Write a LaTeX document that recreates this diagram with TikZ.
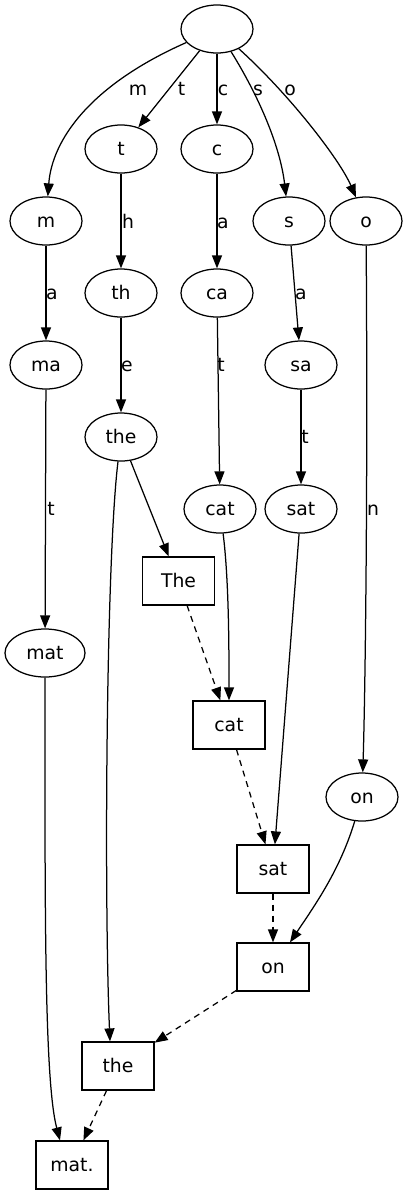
\documentclass[tikz,border=0pt]{standalone}
\usepackage{fontspec}
\setmainfont{DejaVu Sans}
\usetikzlibrary{shapes.geometric,arrows.meta}
\begin{document}
\begin{tikzpicture}[x=1pt,y=-1pt,
  every node/.style={font=\fontsize{18.8}{22}\selectfont},
  el/.style={draw, ellipse, minimum width=72pt, minimum height=48pt, inner sep=0pt, line width=1.25pt, text height=12.5pt, text depth=0.5pt},
  bx/.style={draw, rectangle, minimum width=72pt, minimum height=48pt, inner sep=0pt, line width=1.25pt, text height=12.5pt, text depth=0.5pt},
  lab/.style={anchor=base, inner sep=0pt},
  edge/.style={line width=1.25pt, -{Triangle[length=13pt,width=10pt]}},
  seq/.style={edge, dash pattern=on 6pt off 5pt}
]
\useasboundingbox (0,0) rectangle (409,1195);
% trie nodes
\node[el] (root) at (217,29) {};
\node[el] (t) at (121,149) {t};
\node[el] (c) at (217,149) {c};
\node[el] (m) at (46,221) {m};
\node[el] (s) at (289,221) {s};
\node[el] (o) at (366,221) {o};
\node[el] (th) at (121,293) {th};
\node[el] (ca) at (217,293) {ca};
\node[el] (ma) at (46,365) {ma};
\node[el] (sa) at (301,365) {sa};
\node[el] (the) at (121,437) {the};
\node[el] (cat) at (220,509) {cat};
\node[el] (sat) at (301,509) {sat};
\node[el, minimum width=80pt] (mat) at (45,653) {mat};
\node[el] (on) at (362,797) {on};
% word boxes
\node[bx] (Theb) at (178.5,581) {The};
\node[bx] (catb) at (229,725) {cat};
\node[bx] (satb) at (273,869) {sat};
\node[bx] (onb) at (273,967) {on};
\node[bx] (theb) at (118,1066) {the};
\node[bx] (matb) at (72,1165) {mat.};
% trie edges
\draw[edge] (root) .. controls (90,85) and (52,140) .. (m);
\draw[edge] (root) -- (t);
\draw[edge] (root) -- (c);
\draw[edge] (root) .. controls (258,95) and (280,145) .. (s);
\draw[edge] (root) .. controls (290,95) and (340,160) .. (o);
\draw[edge] (t) -- (th);
\draw[edge] (c) -- (ca);
\draw[edge] (m) -- (ma);
\draw[edge] (s) -- (sa);
\draw[edge] (o) .. controls (368,500) and (365,700) .. (on);
\draw[edge] (th) -- (the);
\draw[edge] (ca) -- (cat);
\draw[edge] (sa) -- (sat);
\draw[edge] (ma) -- (mat);
% trie to words
\draw[edge] (the) -- (Theb);
\draw[edge] (the) .. controls (106,560) and (104,900) .. ([xshift=-8pt]theb.north);
\draw[edge] (cat) .. controls (229,580) and (229,650) .. (catb);
\draw[edge] (sat) -- (satb);
\draw[edge] (mat) .. controls (45,900) and (44,1080) .. ([xshift=-12pt]matb.north);
\draw[edge] (on) .. controls (340,870) and (315,905) .. ([xshift=17pt]onb.north);
% sequence
\draw[seq] (Theb) -- (catb);
\draw[seq] (catb) -- (satb);
\draw[seq] (satb) -- (onb);
\draw[seq] (onb) -- (theb);
\draw[seq] (theb) -- (matb);
% edge labels
\node[lab] (lm) at (138,95) {m};
\node[lab] (lt) at (181.5,95) {t};
\node[lab] (lc) at (223,95) {c};
\node[lab] (ls) at (258,95) {s};
\node[lab] (lo) at (290,95) {o};
\node[lab] (lh) at (128,228) {h};
\node[lab] (la1) at (223,228) {a};
\node[lab] (la2) at (52,299) {a};
\node[lab] (la3) at (301,299) {a};
\node[lab] (le) at (127,371.5) {e};
\node[lab] (lt2) at (221,371.5) {t};
\node[lab] (lt3) at (305,443) {t};
\node[lab] (lt4) at (51,515.5) {t};
\node[lab] (ln) at (373,515.5) {n};
\end{tikzpicture}
\end{document}
